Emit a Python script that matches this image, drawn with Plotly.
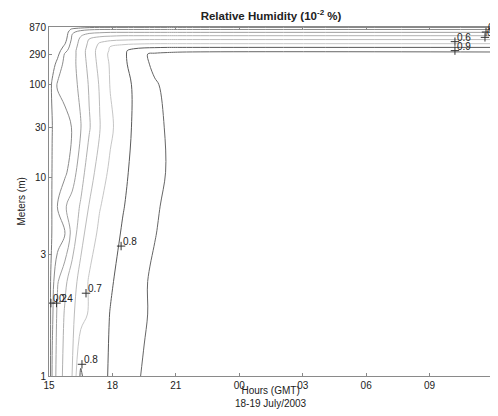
import numpy as np
import plotly.graph_objects as go

# ---------------- data ----------------
hours = [15.0, 15.15, 15.4, 15.75, 16.1, 16.5, 16.9, 17.4, 17.9, 18.5, 19.0, 19.5, 20.0, 20.6, 21.5, 36.0]
heights_m = [1, 1.6, 2.2, 4, 6, 11, 30, 100, 200, 290, 330, 380, 440, 520, 610, 700, 790, 870]

# relative humidity (fraction), one row per height, one column per hour
rh_1m    = [0.10, 0.31, 0.44, 0.53, 0.602, 0.82, 0.72, 0.77, 0.81, 0.85, 0.88, 0.91, 0.93, 0.94, 0.95, 0.96]
rh_1_6m  = [0.12, 0.28, 0.42, 0.51, 0.58, 0.66, 0.71, 0.76, 0.803, 0.84, 0.87, 0.89, 0.92, 0.94, 0.95, 0.96]
rh_2_2m  = [0.14, 0.26, 0.39, 0.48, 0.55, 0.64, 0.71, 0.75, 0.79, 0.83, 0.86, 0.89, 0.92, 0.94, 0.95, 0.96]
rh_4m    = [0.12, 0.21, 0.24, 0.29, 0.44, 0.56, 0.65, 0.72, 0.76, 0.81, 0.84, 0.87, 0.895, 0.93, 0.95, 0.96]
rh_6m    = [0.12, 0.21, 0.305, 0.39, 0.44, 0.51, 0.605, 0.695, 0.74, 0.795, 0.83, 0.855, 0.885, 0.92, 0.94, 0.96]
rh_11m   = [0.12, 0.205, 0.23, 0.28, 0.35, 0.46, 0.55, 0.65, 0.72, 0.78, 0.82, 0.84, 0.87, 0.905, 0.93, 0.96]
rh_30m   = [0.12, 0.198, 0.23, 0.26, 0.305, 0.395, 0.49, 0.595, 0.68, 0.76, 0.81, 0.84, 0.87, 0.91, 0.93, 0.96]
rh_100m  = [0.13, 0.22, 0.31, 0.34, 0.37, 0.42, 0.51, 0.61, 0.705, 0.76, 0.81, 0.85, 0.89, 0.92, 0.94, 0.96]
rh_200m  = [0.10, 0.15, 0.235, 0.33, 0.37, 0.44, 0.53, 0.63, 0.71, 0.78, 0.83, 0.88, 0.92, 0.94, 0.95, 0.96]
rh_290m  = [0.08, 0.11, 0.17, 0.31, 0.36, 0.45, 0.54, 0.64, 0.72, 0.78, 0.84, 0.895, 0.91, 0.92, 0.93, 0.93]
rh_330m  = [0.07, 0.10, 0.15, 0.27, 0.36, 0.45, 0.54, 0.64, 0.71, 0.78, 0.83, 0.86, 0.87, 0.875, 0.88, 0.88]
rh_380m  = [0.06, 0.08, 0.12, 0.23, 0.35, 0.44, 0.53, 0.63, 0.705, 0.75, 0.77, 0.78, 0.785, 0.79, 0.79, 0.79]
rh_440m  = [0.05, 0.07, 0.10, 0.19, 0.34, 0.43, 0.52, 0.61, 0.65, 0.67, 0.68, 0.685, 0.69, 0.69, 0.69, 0.69]
rh_520m  = [0.04, 0.06, 0.09, 0.16, 0.32, 0.42, 0.502, 0.55, 0.57, 0.58, 0.585, 0.59, 0.59, 0.59, 0.59, 0.59]
rh_610m  = [0.03, 0.05, 0.08, 0.14, 0.31, 0.39, 0.44, 0.47, 0.48, 0.49, 0.49, 0.49, 0.49, 0.49, 0.49, 0.49]
rh_700m  = [0.02, 0.04, 0.07, 0.13, 0.28, 0.34, 0.37, 0.38, 0.39, 0.39, 0.39, 0.39, 0.39, 0.39, 0.39, 0.39]
rh_790m  = [0.02, 0.03, 0.05, 0.12, 0.22, 0.26, 0.28, 0.29, 0.29, 0.29, 0.29, 0.29, 0.29, 0.29, 0.29, 0.29]
rh_870m  = [0.01, 0.02, 0.04, 0.08, 0.12, 0.15, 0.17, 0.18, 0.18, 0.18, 0.18, 0.18, 0.18, 0.18, 0.18, 0.18]

levels = [0.2, 0.3, 0.4, 0.5, 0.6, 0.7, 0.8, 0.9]

x_tick_vals = [15, 18, 21, 24, 27, 30, 33, 36]
x_tick_text = ["15", "18", "21", "00", "03", "06", "09", "12"]
y_tick_m = [1, 3, 10, 30, 100, 290, 870]
y_tick_text = ["1", "3", "10", "30", "100", "290", "870"]

label_text = ["0.2", "0.4", "0.7", "0.8", "0.8", "0.6", "0.9", "0.5", "0.8"]
label_hours = [15.09, 15.355, 16.75, 16.56, 18.41, 34.2, 34.2, 35.62, 35.67]
label_m = [1.77, 1.77, 1.95, 1.08, 3.35, 470, 330, 560, 700]

# ---------------- styling ----------------
level_colors = {0.2: "#7a7a7a", 0.3: "#8c8c8c", 0.4: "#a0a0a0", 0.5: "#b0b0b0",
                0.6: "#bcbcbc", 0.7: "#c6c6c6", 0.8: "#5a5a5a", 0.9: "#666666"}
FONT = "Liberation Sans, Arial, Helvetica, sans-serif"
PAGE_OFFSET = 8  # default body margin of the html page


def height_scale(m):
    """Height axis scale of the chart (log of log height)."""
    return np.log10(np.log10(np.asarray(m, dtype=float)) + 0.5)


rh = np.array([rh_1m, rh_1_6m, rh_2_2m, rh_4m, rh_6m, rh_11m, rh_30m, rh_100m, rh_200m,
               rh_290m, rh_330m, rh_380m, rh_440m, rh_520m, rh_610m, rh_700m, rh_790m, rh_870m])
y_rows = height_scale(heights_m)

fig = go.Figure()
for lev in levels:
    fig.add_trace(go.Contour(
        x=hours, y=y_rows, z=rh,
        autocontour=False,
        contours=dict(start=lev, end=lev + 0.01, size=0.1, coloring="none"),
        line=dict(color=level_colors[lev], width=1),
        showscale=False, hoverinfo="skip",
    ))

label_y = height_scale(label_m)
fig.add_trace(go.Scatter(
    x=label_hours, y=label_y, mode="markers",
    marker=dict(symbol="cross-thin", size=6, color="#333", line=dict(width=1, color="#333")),
    hoverinfo="skip", cliponaxis=True,
))
for t, hx, hy in zip(label_text, label_hours, label_y):
    fig.add_annotation(x=hx, y=hy, text=t, showarrow=False, xanchor="left", yanchor="bottom",
                       xshift=0, yshift=-3, font=dict(family=FONT, size=10, color="#222"))

y_lo, y_hi = height_scale([1, 870])

W, H = 498 - PAGE_OFFSET, 416 - PAGE_OFFSET
fig.update_layout(
    width=W, height=H,
    margin=dict(l=49 - PAGE_OFFSET, r=5, t=27 - PAGE_OFFSET, b=40),
    paper_bgcolor="white", plot_bgcolor="white",
    font=dict(family=FONT, size=10, color="#222"),
    showlegend=False,
    title=dict(text="<b>Relative Humidity (10<sup>-2</sup> %)</b>",
               x=(271 - PAGE_OFFSET) / W, xanchor="center", xref="container",
               y=1 - (15.5 - PAGE_OFFSET) / H, yanchor="middle", yref="container",
               font=dict(family=FONT, size=11.5, color="#222")),
)
fig.update_xaxes(range=[15, 36], tickvals=x_tick_vals, ticktext=x_tick_text,
                 ticks="inside", ticklen=3, tickcolor="#888", tickwidth=1,
                 showline=True, linecolor="#8a8a8a", linewidth=1, mirror="ticks",
                 showgrid=False, zeroline=False,
                 tickfont=dict(family=FONT, size=10, color="#222"))
fig.update_yaxes(range=[y_lo, y_hi], tickvals=list(height_scale(y_tick_m)), ticktext=y_tick_text,
                 ticks="inside", ticklen=3, tickcolor="#888", tickwidth=1,
                 showline=True, linecolor="#8a8a8a", linewidth=1, mirror="ticks",
                 showgrid=False, zeroline=False,
                 tickfont=dict(family=FONT, size=10, color="#222"))

fig.add_annotation(text="Hours (GMT)<br>18-19 July/2003", xref="paper", yref="paper",
                   x=0.5, y=-21 / 349, xanchor="center", yanchor="middle", showarrow=False,
                   font=dict(family=FONT, size=10, color="#222"))
fig.add_annotation(text="Meters (m)", xref="paper", yref="paper",
                   x=-28 / 444, y=0.5, xanchor="center", yanchor="middle", textangle=-90,
                   showarrow=False, font=dict(family=FONT, size=10, color="#222"))

fig.write_html("out.html")
